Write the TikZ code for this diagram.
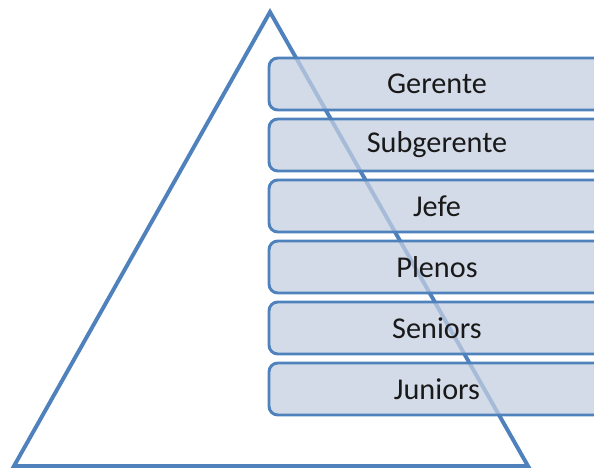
\documentclass[tikz,border=0pt]{standalone}
\usepackage{fontspec}
\setmainfont{Carlito}
\definecolor{lineblue}{RGB}{79,129,189}
\definecolor{boxfill}{RGB}{196,207,224}
\definecolor{txt}{RGB}{25,25,25}
\begin{document}
\begin{tikzpicture}[
        level/.style = {draw=lineblue, line width=2.1pt, rounded corners=2.2mm,
                        fill=boxfill, fill opacity=0.75, text opacity=1, draw opacity=1,
                        minimum width=8.4cm, minimum height=1.3cm, text=txt,
                        font=\fontsize{21.5}{24}\selectfont},
        edge/.style = {draw=lineblue, line width=2.8pt, line join=miter},
    ]
    \useasboundingbox (0,0) rectangle (14.85,11.725);
    \clip (0,0) rectangle (14.85,11.725);

    \coordinate (top) at (6.75,11.425);
    \coordinate (bl) at (0.35,0.075);
    \coordinate (br) at (13.2,0.075);
    \path[edge] (bl) -- (top) -- (br) -- cycle;

    \node (gerente) [level] at (10.925,9.625){Gerente};
    \node (subgerente) [level] at (10.925,8.1){Subgerente};
    \node (jefe) [level] at (10.925,6.575){Jefe};
    \node (plenos) [level] at (10.925,5.05){Plenos};
    \node (seniors) [level] at (10.925,3.525){Seniors};
    \node (juniors) [level] at (10.925,2.0){Juniors};
\end{tikzpicture}
\end{document}
